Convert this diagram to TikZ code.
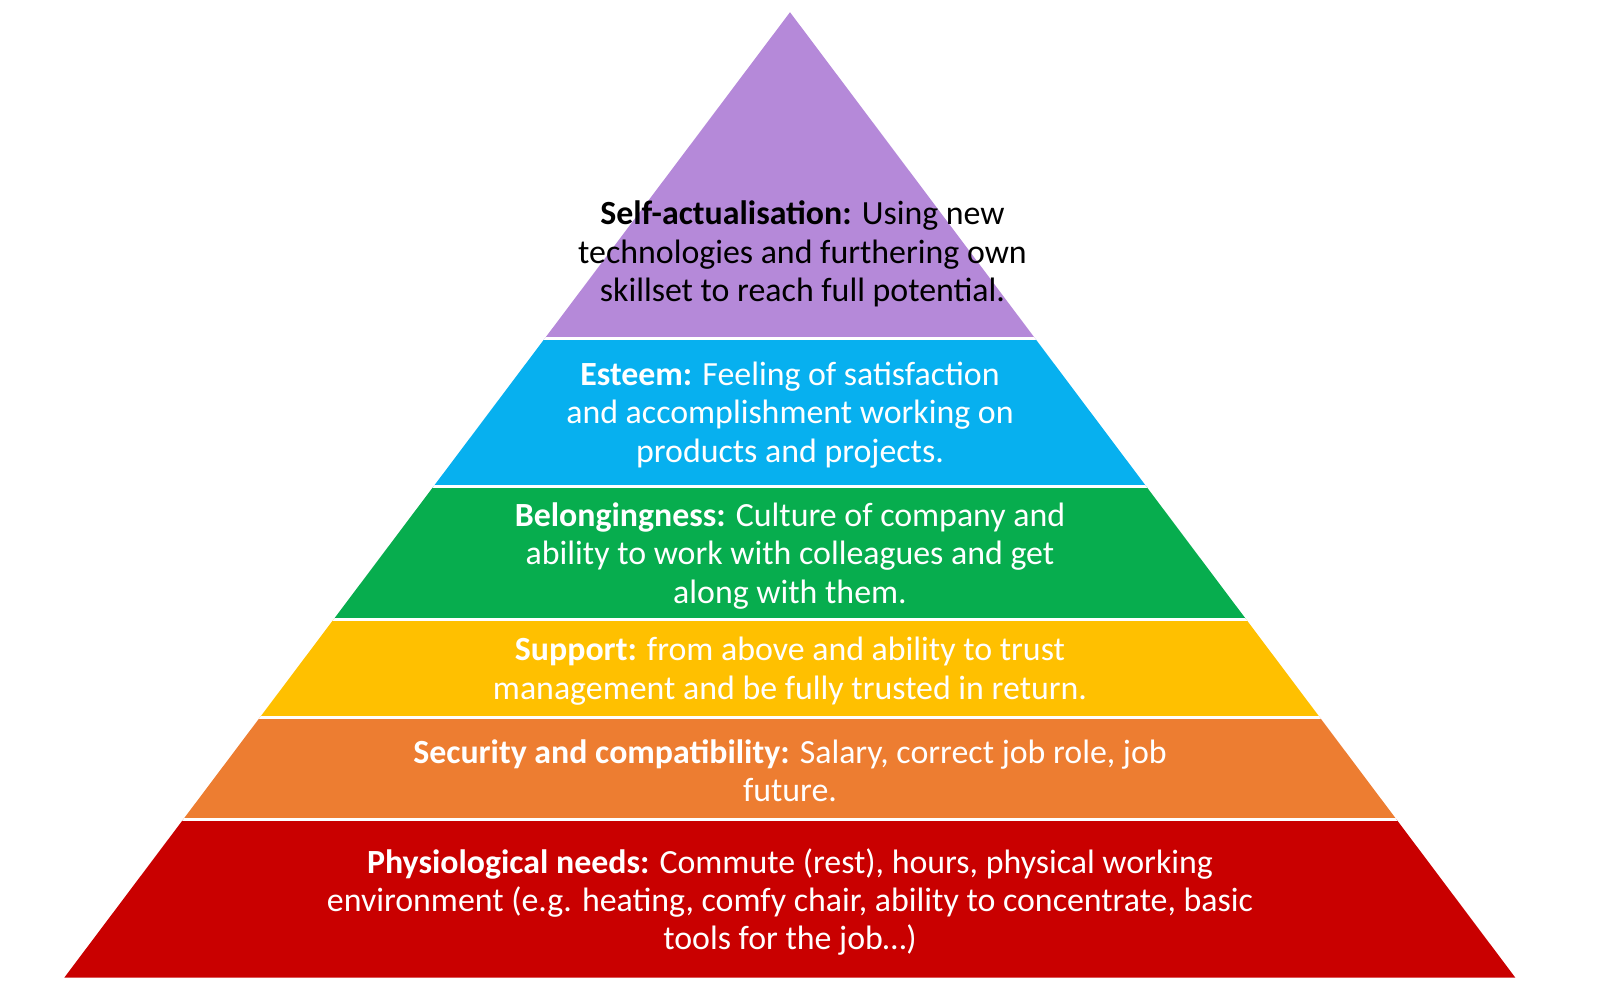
\documentclass[tikz,border=0pt]{standalone}
\usepackage{fontspec}
\setmainfont{Carlito}
\definecolor{cpurple}{HTML}{B589D9}
\definecolor{cblue}{HTML}{07B0EF}
\definecolor{cgreen}{HTML}{07AD4E}
\definecolor{cyellow}{HTML}{FFC000}
\definecolor{corange}{HTML}{ED7D31}
\definecolor{cred}{HTML}{C90000}
\tikzset{
  lbl/.style={align=center, inner sep=0pt, font=\fontsize{28.9pt}{32.7pt}\selectfont},
  wlbl/.style={lbl, text=white},
  sep/.style={draw=white, line width=2.6pt}
}
\begin{document}
\begin{tikzpicture}[x=0.3mm, y=-0.3mm]
\useasboundingbox (0,0) rectangle (1600,995);
\coordinate (apex) at (790,12.2);
\coordinate (bl) at (64.3,977.6);
\coordinate (br) at (1515.3,977.6);
\begin{scope}
  \clip (apex) -- (br) -- (bl) -- cycle;
  \fill[cpurple] (0,0) rectangle (1600,338.8);
  \fill[cblue] (0,338.8) rectangle (1600,486.7);
  \fill[cgreen] (0,486.7) rectangle (1600,619.4);
  \fill[cyellow] (0,619.4) rectangle (1600,717.3);
  \fill[corange] (0,717.3) rectangle (1600,819.4);
  \fill[cred] (0,819.4) rectangle (1600,980);
  \draw[sep] (0,338.8) -- (1600,338.8);
  \draw[sep] (0,486.7) -- (1600,486.7);
  \draw[sep] (0,619.4) -- (1600,619.4);
  \draw[sep] (0,717.3) -- (1600,717.3);
  \draw[sep] (0,819.4) -- (1600,819.4);
\end{scope}
\node[lbl] (self) at (802.5,254) {\textbf{Self-actualisation:} Using new\\technologies and furthering own\\skillset to reach full potential.};
\node[wlbl] (esteem) at (790,415) {\textbf{Esteem:} Feeling of satisfaction\\and accomplishment working on\\products and projects.};
\node[wlbl] (belong) at (790,556) {\textbf{Belongingness:} Culture of company and\\ability to work with colleagues and get\\along with them.};
\node[wlbl] (support) at (790,671) {\textbf{Support:} from above and ability to trust\\management and be fully trusted in return.};
\node[wlbl] (security) at (790,771) {\textbf{Security and compatibility:} Salary, correct job role, job\\future.};
\node[wlbl] (phys) at (790,902) {\textbf{Physiological needs:} Commute (rest), hours, physical working\\environment (e.g. heating, comfy chair, ability to concentrate, basic\\tools for the job\dots)};
\end{tikzpicture}
\end{document}
